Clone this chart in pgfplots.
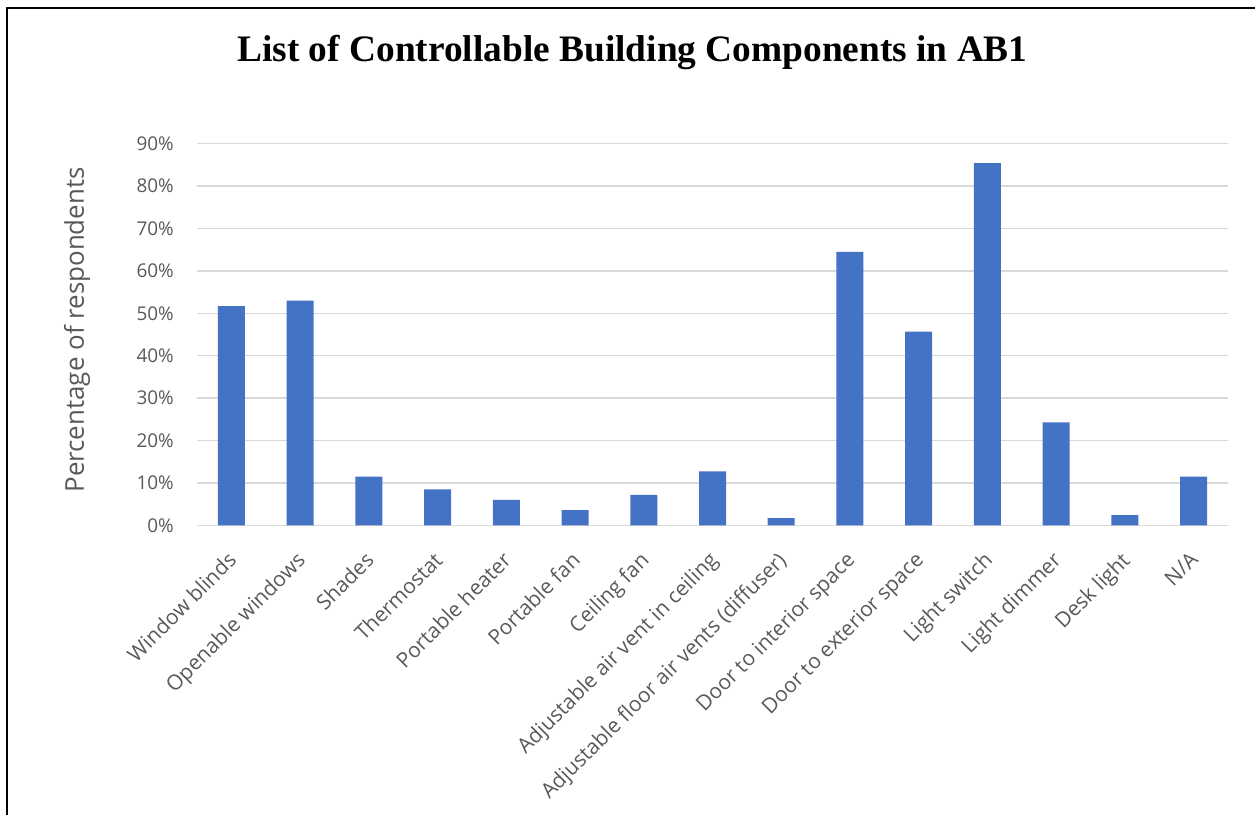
\documentclass[border=0pt]{standalone}
\usepackage{fontspec}
\setmainfont{Open Sans}
\newfontfamily\titlefont{Liberation Serif}
\usepackage{pgfplots}
\pgfplotsset{compat=1.18}
\definecolor{barblue}{HTML}{4472C4}
\definecolor{gridgray}{HTML}{D9D9D9}
\definecolor{textgray}{HTML}{595959}

\pgfplotstableread{
idx val
0 51.7
1 53.0
2 11.5
3 8.5
4 6.0
5 3.6
6 7.2
7 12.7
8 1.7
9 64.5
10 45.7
11 85.4
12 24.3
13 2.4
14 11.5
}\datatable

\begin{document}
\begin{tikzpicture}[x=1bp,y=1bp]
\useasboundingbox (0,0) rectangle (1255,815);
\draw[line width=2.5bp] (7,0) -- (7,807.2) -- (1255,807.2);
\node[font=\titlefont\bfseries\fontsize{37.5}{40}\selectfont, anchor=base, inner sep=0pt] at (632.5,753.3) {List of Controllable Building Components in AB1};
\begin{axis}[
  at={(197bp,289.7bp)}, anchor=south west,
  width=1031bp, height=381.6bp, scale only axis,
  xmin=-0.5, xmax=14.5, ymin=0, ymax=90,
  ybar, bar width=27bp,
  axis line style={draw=none},
  tick style={draw=none}, major tick length=0pt,
  ytick={0,10,20,30,40,50,60,70,80,90},
  yticklabels={0\%,10\%,20\%,30\%,40\%,50\%,60\%,70\%,80\%,90\%},
  ymajorgrids, grid style={gridgray, line width=1.4bp},
  yticklabel style={font=\fontsize{19}{22}\selectfont, text=textgray, anchor=east, inner sep=0pt, xshift=-23bp},
  xtick={0,1,2,3,4,5,6,7,8,9,10,11,12,13,14},
  xticklabels={Window blinds,Openable windows,Shades,Thermostat,Portable heater,Portable fan,Ceiling fan,Adjustable air vent in ceiling,Adjustable floor air vents (diffuser),Door to interior space,Door to exterior space,Light switch,Light dimmer,Desk light,N/A},
  xticklabel style={font=\fontsize{21}{24}\selectfont, text=textgray, inner sep=0pt, xshift=-5bp, yshift=-25bp, rotate=45, anchor=north east},
  ylabel={Percentage of respondents},
  every axis y label/.style={at={(axis description cs:-0.1164,0.512)}, rotate=90, anchor=center, font=\fontsize{26}{29}\selectfont, text=textgray},
  clip=false,
]
\addplot[fill=barblue, draw=none] table[x=idx, y=val] {\datatable};
\end{axis}
\end{tikzpicture}
\end{document}
